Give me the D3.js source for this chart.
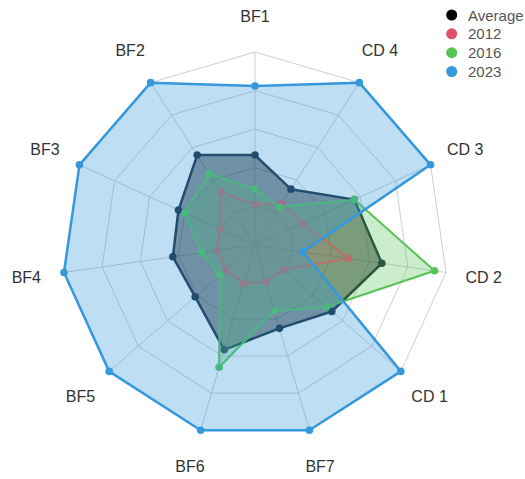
<!DOCTYPE html>
<html>
<head>
<meta charset="utf-8">
<script src="https://cdn.jsdelivr.net/npm/d3@7"></script>
<style>
html,body{margin:0;padding:0;background:#fff;}
svg{display:block;font-family:"Liberation Sans",Arial,sans-serif;}
</style>
</head>
<body>
<svg id="chart" width="525" height="479"></svg>
<script>
const axes = ["BF1","CD 4","CD 3","CD 2","CD 1","BF7","BF6","BF5","BF4","BF3","BF2"];
const seriesNames = ["Average","2012","2016","2023"];
const average = [2.33,1.72,2.83,3.32,2.63,2.25,2.83,2.05,2.15,2.18,2.77];
const y2012   = [1.05,1.28,1.36,2.45,0.98,1.00,1.05,1.00,1.00,1.00,1.63];
const y2016   = [1.45,1.17,2.83,4.70,2.45,1.78,3.30,1.20,1.40,2.00,2.20];
const y2023   = [4.12,5.00,5.00,1.25,5.00,5.00,5.00,5.00,5.00,5.00,5.00];
const gridLevels = [1,2,3,4,5];
const maxValue = 5;

const styles = [
  {line:"#1b2a3a", fill:"rgba(0,0,0,0.45)", point:"#1b2a3a", legend:"#000000", w:2.5},
  {line:"#e0506c", fill:"rgba(224,80,108,0.2)", point:"#e0506c", legend:"#e0506c", w:2},
  {line:"#55c455", fill:"rgba(85,196,85,0.3)", point:"#55c455", legend:"#55c455", w:2},
  {line:"#3598dc", fill:"rgba(53,152,220,0.32)", point:"#3598dc", legend:"#3598dc", w:2.5}
];
const allSeries = [average, y2012, y2016, y2023];

const svg = d3.select("#chart");
const cx = 255, cy = 245, R = 193;
const r = d3.scaleLinear().domain([0, maxValue]).range([0, R]);
const angle = d3.scalePoint().domain(axes).range([0, 2*Math.PI*(axes.length-1)/axes.length]);
const pt = (a, v) => [cx + r(v)*Math.sin(angle(a)), cy - r(v)*Math.cos(angle(a))];

const g = svg.append("g");
// grid polygons
gridLevels.forEach(l => {
  g.append("polygon")
    .attr("points", axes.map(a => pt(a, l).join(",")).join(" "))
    .attr("fill", "none").attr("stroke", "#cfcfcf").attr("stroke-width", 1);
});
// spokes
axes.forEach(a => {
  const p = pt(a, maxValue);
  g.append("line").attr("x1", cx).attr("y1", cy).attr("x2", p[0]).attr("y2", p[1])
    .attr("stroke", "#cfcfcf").attr("stroke-width", 1);
});

// series (dataset 0 drawn first)
allSeries.forEach((vals, i) => {
  const s = styles[i];
  const pts = axes.map((a, j) => pt(a, vals[j]));
  const sg = svg.append("g");
  sg.append("polygon").attr("points", pts.map(p => p.join(",")).join(" "))
    .attr("fill", s.fill).attr("stroke", s.line).attr("stroke-width", s.w)
    .attr("stroke-linejoin", "round");
  sg.selectAll("circle").data(pts).join("circle")
    .attr("cx", d => d[0]).attr("cy", d => d[1]).attr("r", 3.8)
    .attr("fill", s.point);
});

// axis labels
axes.forEach(a => {
  const L = a === "BF1" ? 229 : 231;
  svg.append("text")
    .attr("x", cx + L*Math.sin(angle(a)))
    .attr("y", cy - L*Math.cos(angle(a)))
    .attr("text-anchor", "middle").attr("dominant-baseline", "central")
    .attr("font-size", 16).attr("fill", "#333").text(a);
});

// legend
const ly = d3.scalePoint().domain(seriesNames).range([15, 71.5]);
seriesNames.forEach((n, i) => {
  svg.append("circle").attr("cx", 451.7).attr("cy", ly(n)).attr("r", 5.5).attr("fill", styles[i].legend);
  svg.append("text").attr("x", 468).attr("y", ly(n)).attr("dominant-baseline", "central")
    .attr("font-size", 15).attr("fill", "#555").text(n);
});
</script>
</body>
</html>
